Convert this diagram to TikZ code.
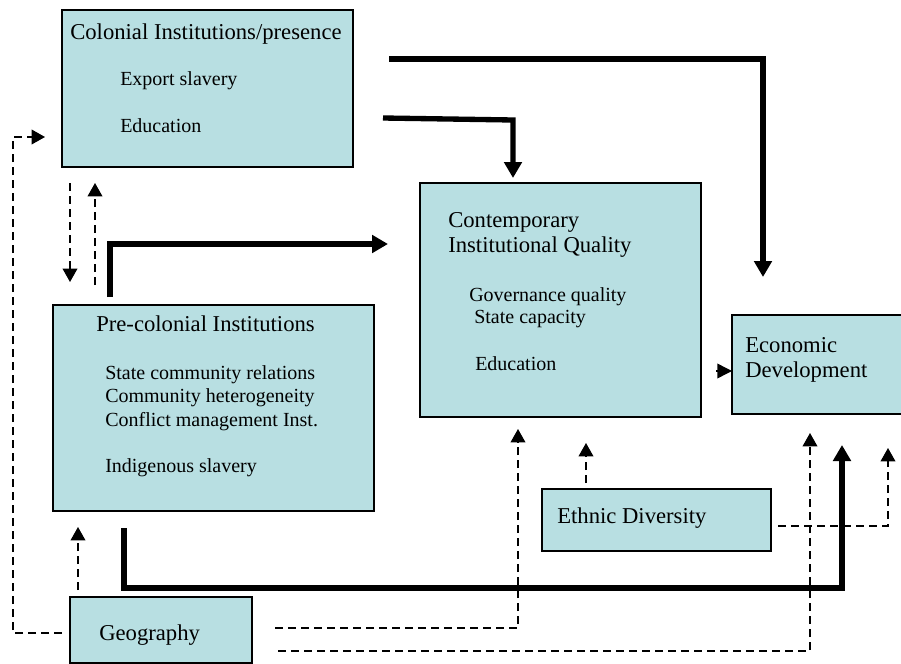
\documentclass[tikz,border=0pt]{standalone}
\usepackage{fontspec}
\setmainfont{Liberation Serif}
\usetikzlibrary{arrows.meta}
\definecolor{boxblue}{RGB}{184,223,226}

\tikzset{
  box/.style={draw, line width=1.2pt, fill=boxblue, inner sep=0pt},
  txt/.style={anchor=base west, inner sep=0pt, font=\fontsize{15}{18}\selectfont},
  head/.style={txt, font=\fontsize{17}{20}\selectfont},
  strong/.style={line width=4pt, -{Triangle[length=12pt,width=13pt]}},
  weak/.style={line width=1.1pt, dash pattern=on 6pt off 3.75pt, -{Triangle[length=10pt,width=11pt]}},
}

\begin{document}
\begin{tikzpicture}[x=0.75pt,y=-0.75pt]
\useasboundingbox (0,0) rectangle (901,664);
\clip (0,0) rectangle (901,664);

% boxes
\node[box, minimum width=218.25pt, minimum height=117.75pt] (colonial) at (207.5,88.5) {};
\node[box, minimum width=240.75pt, minimum height=154.5pt] (precol) at (213.5,408) {};
\node[box, minimum width=210.75pt, minimum height=175.5pt] (contemp) at (560.5,300) {};
\node[box, minimum width=129.75pt, minimum height=74.25pt] (econ) at (818.5,364.5) {};
\node[box, minimum width=171.75pt, minimum height=46.5pt] (ethnic) at (656.5,520) {};
\node[box, minimum width=136.5pt, minimum height=49.5pt] (geo) at (161,630) {};

% texts
\node[head] (colT) at (70,39) {Colonial Institutions/presence};
\node[txt] (colA) at (120,85) {Export slavery};
\node[txt] (colB) at (120,132) {Education};

\node[head] (preT) at (96,331) {Pre-colonial Institutions};
\node[txt] (preA) at (105,379) {State community relations};
\node[txt] (preB) at (105,402) {Community heterogeneity};
\node[txt] (preC) at (105,426) {Conflict management Inst.};
\node[txt] (preD) at (105,472) {Indigenous slavery};

\node[head] (conT) at (448,227) {Contemporary};
\node[head] (conU) at (448,252) {Institutional Quality};
\node[txt] (conA) at (469,301) {Governance quality};
\node[txt] (conB) at (474,323) {State capacity};
\node[txt] (conC) at (475,370) {Education};

\node[head] (ecoT) at (745,352) {Economic};
\node[head] (ecoU) at (745,377) {Development};

\node[head] (ethT) at (557,523) {Ethnic Diversity};
\node[head] (geoT) at (99,640) {Geography};

% end points of the connectors
\coordinate (c1) at (389,59);
\coordinate (c1e) at (763,277);
\coordinate (c2) at (383,118);
\coordinate (c2m) at (513,120);
\coordinate (c2e) at (513,178);
\coordinate (p1) at (110,297);
\coordinate (p1e) at (388,244);
\coordinate (p2) at (124,528);
\coordinate (p2e) at (842,445);
\coordinate (k1) at (716,371);
\coordinate (k1e) at (732,371);

% strong links
\draw[strong] (c1) -| (c1e);
\draw[strong] (c2) -- (c2m) -- (c2e);
\draw[strong] (p1) |- (p1e);
\draw[strong] (p2) |- (842,588) -- (p2e);
\draw[line width=1.1pt, -{Triangle[length=11pt,width=11pt]}] (k1) -- (k1e);

% weak links
\draw[weak] (70,183) -- (70,282);
\draw[weak] (95,285) -- (95,183);
\draw[weak] (62,633) -- (13,633) -- (13,137) -- (45,137);
\draw[weak] (78,590) -- (78,527);
\draw[weak] (275,628) -| (518,429);
\draw[weak] (278,651) -| (810,433);
\draw[weak] (586,483) -- (586,443);
\draw[weak] (778,526) -| (888,448);
\end{tikzpicture}
\end{document}
